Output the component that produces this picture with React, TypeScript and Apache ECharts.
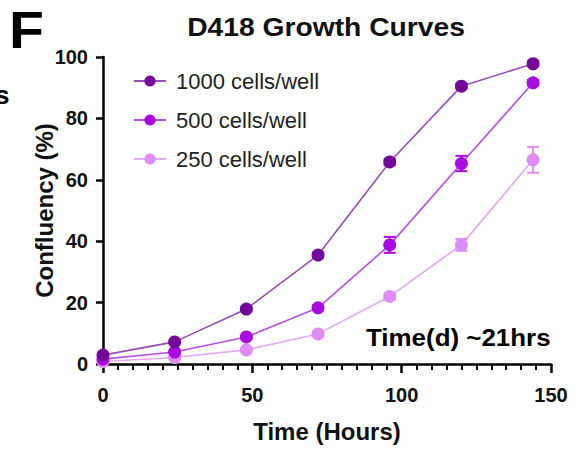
import React, { useEffect, useRef } from "react";
import * as echarts from "echarts";

const hours = [0, 24, 48, 72, 96, 120, 144];
const seriesNames = ["1000 cells/well", "500 cells/well", "250 cells/well"];
const conf1000 = [2.9, 7.2, 17.9, 35.5, 65.8, 90.5, 97.8];
const conf500 = [1.6, 3.9, 8.8, 18.3, 38.8, 65.3, 91.6];
const conf250 = [0.8, 2.1, 4.6, 9.8, 22.0, 38.8, 66.5];
const err1000 = [0.3, 0.4, 0.5, 0.8, 1.0, 0.8, 0.8];
const err500 = [0.3, 0.4, 0.5, 0.8, 2.6, 2.5, 0.9];
const err250 = [0.2, 0.3, 0.4, 0.6, 1.0, 1.9, 4.2];
const colors = ["#74089a", "#a80ae0", "#de8cf6"];
const lineColors = ["#9a4db5", "#b94ee6", "#e6a8f7"];
const yTicks = [0, 20, 40, 60, 80, 100];
const xTicks = [0, 50, 100, 150];

const FONT = "'Liberation Sans', Arial, Helvetica, sans-serif";

export default function App() {
  const ref = useRef<HTMLDivElement>(null);
  useEffect(() => {
    if (!ref.current) return;
    const chart = echarts.init(ref.current, undefined, { renderer: "svg" });
    const values = [conf1000, conf500, conf250];
    const errs = [err1000, err500, err250];

    const lineSeries = seriesNames.map((name, i) => ({
      name,
      type: "line",
      data: hours.map((h, j) => [h, values[i][j]]),
      symbol: "circle",
      symbolSize: 13,
      itemStyle: { color: colors[i] },
      lineStyle: { color: lineColors[i], width: 1.6 },
      z: 10 - i,
    }));

    const errSeries = seriesNames.map((name, i) => ({
      name: "err-" + i,
      type: "custom",
      itemStyle: { color: colors[i] },
      data: hours.map((h, j) => [h, values[i][j] - errs[i][j], values[i][j] + errs[i][j]]),
      renderItem: (params: any, api: any) => {
        const x = api.value(0);
        const lo = api.coord([x, api.value(1)]);
        const hi = api.coord([x, api.value(2)]);
        const w = 6;
        const st = { stroke: colors[i], lineWidth: 2 };
        return {
          type: "group",
          children: [
            { type: "line", shape: { x1: lo[0], y1: lo[1], x2: hi[0], y2: hi[1] }, style: st },
            { type: "line", shape: { x1: lo[0] - w, y1: lo[1], x2: lo[0] + w, y2: lo[1] }, style: st },
            { type: "line", shape: { x1: hi[0] - w, y1: hi[1], x2: hi[0] + w, y2: hi[1] }, style: st },
          ],
        };
      },
      z: 11 - i,
    }));

    chart.setOption({
      animation: false,
      textStyle: { fontFamily: FONT },
      graphic: [
        {
          type: "text",
          x: 326,
          y: 28,
          scaleX: 1.13,
          style: {
            text: "D418 Growth Curves",
            font: `bold 25px ${FONT}`,
            fill: "#111",
            align: "center",
            verticalAlign: "middle",
          },
        },
        {
          type: "text",
          x: 9,
          y: 30,
          scaleX: 1.1,
          style: { text: "F", font: `bold 52px ${FONT}`, fill: "#000", verticalAlign: "middle" },
        },
        {
          type: "text",
          x: -5,
          y: 95,
          style: { text: "s", font: `bold 26px ${FONT}`, fill: "#000", verticalAlign: "middle" },
        },
        {
          type: "text",
          x: 366,
          y: 337,
          scaleX: 1.08,
          style: { text: "Time(d) ~21hrs", font: `bold 24px ${FONT}`, fill: "#000", verticalAlign: "middle" },
        },
      ],
      legend: {
        data: seriesNames,
        orient: "vertical",
        left: 128,
        top: 65,
        itemWidth: 32,
        itemHeight: 14,
        itemGap: 17,
        textStyle: { fontSize: 22, color: "#222", fontFamily: FONT, padding: [0, 0, 0, 5] },
      },
      grid: { left: 103, right: 35, top: 57, bottom: 90 },
      xAxis: {
        type: "value",
        min: 0,
        max: 150,
        interval: 50,
        name: "Time (Hours)",
        nameLocation: "middle",
        nameGap: 55,
        nameMoveOverlap: false,
        nameTextStyle: { fontSize: 24, fontWeight: "bold", color: "#111", fontFamily: FONT },
        axisLine: { lineStyle: { color: "#000", width: 2.5 } },
        axisTick: { length: 9, lineStyle: { color: "#000", width: 2.5 } },
        minorTick: { show: true, splitNumber: 10, length: 6, lineStyle: { color: "#000", width: 2 } },
        axisLabel: {
          fontSize: 20,
          fontWeight: "bold",
          color: "#111",
          margin: 21,
          formatter: (v: number) => (xTicks.includes(v) ? String(v) : ""),
        },
        splitLine: { show: false },
      },
      yAxis: {
        type: "value",
        min: 0,
        max: 100,
        interval: 20,
        name: "Confluency (%)",
        nameLocation: "middle",
        nameGap: 47,
        nameMoveOverlap: false,
        nameTextStyle: { fontSize: 24, fontWeight: "bold", color: "#111", fontFamily: FONT },
        axisLine: { show: true, lineStyle: { color: "#000", width: 2.5 } },
        axisTick: { show: true, length: 7, lineStyle: { color: "#000", width: 2.5 } },
        axisLabel: {
          fontSize: 20,
          fontWeight: "bold",
          color: "#111",
          margin: 15,
          formatter: (v: number) => (yTicks.includes(v) ? String(v) : ""),
        },
        splitLine: { show: false },
      },
      series: [...errSeries, ...lineSeries],
    });
    return () => chart.dispose();
  }, []);
  return <div ref={ref} style={{ width: 586, height: 454, position: "absolute", left: 0, top: 0, background: "#fff" }} />;
}
